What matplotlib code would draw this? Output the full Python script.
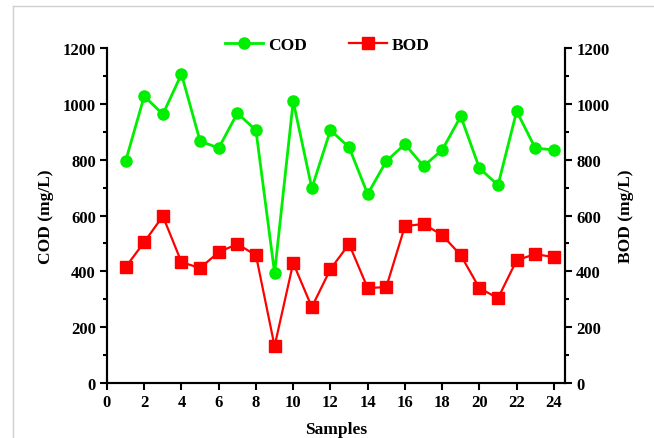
import matplotlib.pyplot as plt
from matplotlib.lines import Line2D

samples = list(range(1, 25))
cod = [795, 1028, 963, 1107, 867, 842, 967, 906, 394, 1010, 698, 906,
       845, 677, 795, 856, 777, 835, 956, 770, 709, 974, 842, 835]
bod = [415, 505, 598, 433, 412, 469, 498, 458, 132, 430, 272, 408,
       498, 340, 344, 562, 570, 530, 458, 340, 304, 440, 462, 451]
x_ticks = list(range(0, 25, 2))
y_ticks = list(range(0, 1201, 200))

plt.rcParams['font.family'] = ['Liberation Serif', 'DejaVu Serif']
plt.rcParams['font.weight'] = 'bold'

fig = plt.figure(figsize=(6.54, 4.39), dpi=100)
ax = fig.add_axes([0.1636, 0.1253, 0.7004, 0.7627])
ax2 = ax.twinx()

l1, = ax.plot(samples, cod, color='#00ee00', lw=2, marker='o', ms=8, label='COD')
l2, = ax2.plot(samples, bod, color='#ff0000', lw=1.6, marker='s', ms=8, label='BOD')

for a in (ax, ax2):
    a.set_ylim(0, 1200)
    a.set_yticks(y_ticks)
    a.set_yticks(range(100, 1200, 200), minor=True)
    a.spines['top'].set_visible(False)
    for s in a.spines.values():
        s.set_linewidth(1.5)
    a.tick_params(axis='both', which='major', direction='out', length=5, width=1.5,
                  labelsize=12, pad=3)
    a.tick_params(axis='y', which='minor', direction='out', length=3, width=1.5)
    for lab in a.get_yticklabels():
        lab.set_fontweight('bold')

ax.set_xlim(0, 24.6)
ax.set_xticks(x_ticks)
for lab in ax.get_xticklabels():
    lab.set_fontweight('bold')

ax.set_ylabel('COD (mg/L)', fontsize=12.5, fontweight='bold', labelpad=6)
ax2.set_ylabel('BOD (mg/L)', fontsize=12.5, fontweight='bold', labelpad=6, rotation=90)
ax.set_xlabel('Samples', fontsize=12.5, fontweight='bold', labelpad=8)

ax.legend(handles=[l1, l2], loc='lower center', bbox_to_anchor=(0.481, 0.965),
          ncol=2, frameon=False, handlelength=2.2, handletextpad=0.3,
          columnspacing=2.4, prop={'weight': 'bold', 'size': 12.5}, borderaxespad=0)

# light frame at the left and top of the image
fig.add_artist(Line2D([13 / 654, 13 / 654], [0, 1 - 7 / 439], color='#d0d0d0', lw=1))
fig.add_artist(Line2D([13 / 654, 1], [1 - 7 / 439, 1 - 7 / 439], color='#d0d0d0', lw=1))

fig.savefig('out.png', dpi=100)
